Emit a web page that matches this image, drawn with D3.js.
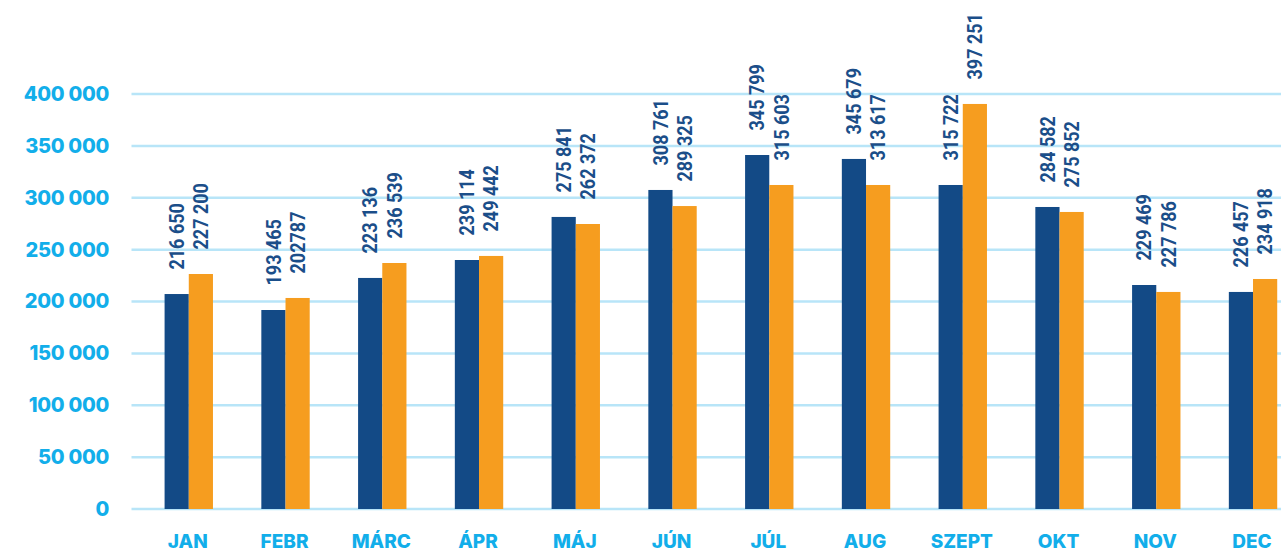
<!DOCTYPE html>
<html>
<head>
<meta charset="utf-8">
<script src="https://cdn.jsdelivr.net/npm/d3@7"></script>
<style>
  body { margin: 0; background: #fff; }
</style>
</head>
<body>
<div id="chart"></div>
<script>
// data
const months = ["JAN", "FEBR", "MÁRC", "ÁPR", "MÁJ", "JÚN", "JÚL", "AUG", "SZEPT", "OKT", "NOV", "DEC"];
const blueValues = [207200, 191800, 222700, 240000, 281500, 307500, 341200, 337400, 312300, 291100, 215900, 209200];
const orangeValues = [226500, 203400, 237100, 243900, 274700, 292000, 312300, 312300, 390400, 286300, 209200, 221700];
const blueLabels = ["216 650", "193 465", "223 136", "239 114", "275 841", "308 761", "345 799", "345 679", "315 722", "284 582", "229 469", "226 457"];
const orangeLabels = ["227 200", "202787", "236 539", "249 442", "262 372", "289 325", "315 603", "313 617", "397 251", "275 852", "227 786", "234 918"];
const yTicks = [0, 50000, 100000, 150000, 200000, 250000, 300000, 350000, 400000];

const W = 1281, H = 552;
const svg = d3.select("#chart")
  .append("svg")
  .attr("width", W)
  .attr("height", H);

const y = d3.scaleLinear()
  .domain([0, 400000])
  .range([509, 94]);

const x = d3.scaleBand()
  .domain(months)
  .range([140.4, 1301.4])
  .paddingInner(0.5)
  .paddingOuter(0.25);

const xs = d3.scaleBand()
  .domain(["a", "b"])
  .range([0, x.bandwidth()]);

// gridlines
svg.append("g")
  .selectAll("line")
  .data(yTicks)
  .enter()
  .append("line")
  .attr("x1", 131.5)
  .attr("x2", W)
  .attr("y1", d => y(d))
  .attr("y2", d => y(d))
  .attr("stroke", "#b8e5f8")
  .attr("stroke-width", 2.5);

// y axis labels
const fmt = d => d3.format(",")(d).replace(/,/g, " ");
const yAxis = svg.append("g")
  .attr("transform", "translate(109,0)")
  .call(d3.axisLeft(y).tickValues(yTicks).tickFormat(fmt).tickSize(0).tickPadding(0));
yAxis.select(".domain").remove();
yAxis.selectAll("text")
  .attr("fill", "#12aeea")
  .style("font-family", "Inter")
  .style("font-weight", 800)
  .style("font-size", "20px")
  .style("letter-spacing", "-0.3px");

// bars
const groups = svg.append("g")
  .selectAll("g")
  .data(months)
  .enter()
  .append("g")
  .attr("transform", d => `translate(${x(d)},0)`);

groups.append("rect")
  .attr("x", xs("a"))
  .attr("width", xs.bandwidth())
  .attr("y", (d, i) => y(blueValues[i]))
  .attr("height", (d, i) => y(0) - y(blueValues[i]))
  .attr("fill", "#134a86");

groups.append("rect")
  .attr("x", xs("b"))
  .attr("width", xs.bandwidth())
  .attr("y", (d, i) => y(orangeValues[i]))
  .attr("height", (d, i) => y(0) - y(orangeValues[i]))
  .attr("fill", "#f69d1f");

// value labels (rotated)
const labelStyle = sel => sel
  .attr("text-anchor", "start")
  .attr("dy", "0.36em")
  .attr("fill", "#1b4e89")
  .style("font-family", "Roboto")
  .style("font-weight", 700)
  .style("font-size", "20px");

groups.append("text")
  .attr("transform", (d, i) => `translate(${xs("a") + xs.bandwidth() / 2},${y(blueValues[i]) - 24.5}) rotate(-90) scale(0.9,1)`)
  .text((d, i) => blueLabels[i])
  .call(labelStyle);

groups.append("text")
  .attr("transform", (d, i) => `translate(${xs("b") + xs.bandwidth() / 2},${y(orangeValues[i]) - 24.5}) rotate(-90) scale(0.9,1)`)
  .text((d, i) => orangeLabels[i])
  .call(labelStyle);

// month labels
svg.append("g")
  .selectAll("text")
  .data(months)
  .enter()
  .append("text")
  .attr("x", d => x(d) + x.bandwidth() / 2 - 1)
  .attr("y", 548)
  .attr("text-anchor", "middle")
  .attr("fill", "#12aeea")
  .style("font-family", "Inter")
  .style("font-weight", 800)
  .style("font-size", "19px")
  .text(d => d);
</script>
</body>
</html>
